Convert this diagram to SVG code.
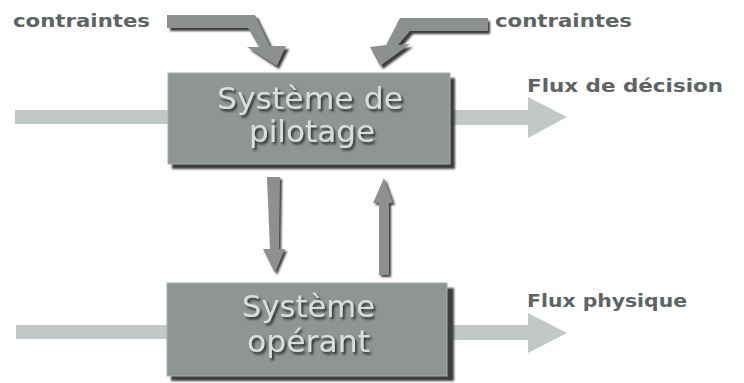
<svg xmlns="http://www.w3.org/2000/svg" width="744" height="383" viewBox="0 0 744 383">
<defs>
<filter id="ts" x="-10%" y="-20%" width="130%" height="150%">
<feDropShadow dx="2" dy="2.5" stdDeviation="1" flood-color="#2a2a2a" flood-opacity="0.9"/>
</filter>
<filter id="bs" x="-5%" y="-5%" width="115%" height="120%">
<feGaussianBlur stdDeviation="1.2"/>
</filter>
</defs>
<style>
.box{fill:#8f9494;stroke:#a9aeae;stroke-width:1}
.shadow{fill:#3c3c3c}
.btxt{font-family:"DejaVu Sans",sans-serif;font-size:31px;fill:#dadddd;filter:url(#ts)}
.lbl{font-family:"DejaVu Sans",sans-serif;font-weight:bold;font-size:17px;fill:#5c6464}
.flow{fill:#c2c8c8}
.carr{fill:#8c9090}
.cshd{fill:#3a3a3a}
</style>
<rect width="744" height="383" fill="#ffffff"/>

<g id="connectors">
  <!-- flow arrows -->
  <rect class="flow" x="15" y="110" width="155" height="14"/>
  <polygon class="flow" points="450,110 528,110 528,97 567,117 528,138 528,125 450,125"/>
  <rect class="flow" x="16" y="325" width="153" height="14"/>
  <polygon class="flow" points="447,325 528,325 528,313 567,333 528,353 528,340 447,340"/>
  <!-- constraint arrow left -->
  <polygon class="cshd" points="170,18 258,18 273,49 289,49 279,69 250,50 262,50 251,31 170,31" filter="url(#bs)"/>
  <polygon class="carr" points="167,15 255,15 270,46 286,46 277,66 247,47 259,47 248,28 167,28"/>
  <!-- constraint arrow right -->
  <polygon class="cshd" points="490,21 403,21 389,48 373,50 383,69 413,47 401,48 413,34 490,34" filter="url(#bs)"/>
  <polygon class="carr" points="488,18 400,18 386,45 370,47 380,66 410,44 398,45 410,31 488,31"/>
  <!-- down arrow -->
  <polygon class="cshd" points="269,179 282,179 281,251 287,251 277,275 265,251 272,251" filter="url(#bs)"/>
  <polygon class="carr" points="267,177 280,177 279,249 285,249 275,273 263,249 270,249"/>
  <!-- up arrow -->
  <polygon class="cshd" points="386,180 395,205 391,205 391,277 381,277 381,205 375,205" filter="url(#bs)"/>
  <polygon class="carr" points="384,178 393,203 389,203 389,275 379,275 379,203 373,203"/>
</g>

<g id="node-pilotage">
  <rect class="shadow" x="172" y="78" width="283" height="91" filter="url(#bs)"/>
  <rect class="box" x="168" y="73" width="282" height="91"/>
  <text class="btxt" x="217" y="109" textLength="186" lengthAdjust="spacingAndGlyphs">Système de</text>
  <text class="btxt" x="249" y="142" textLength="126" lengthAdjust="spacingAndGlyphs">pilotage</text>
</g>

<g id="node-operant">
  <rect class="shadow" x="171" y="288" width="283" height="93" filter="url(#bs)"/>
  <rect class="box" x="167" y="283" width="280" height="93"/>
  <text class="btxt" x="242" y="317" textLength="133" lengthAdjust="spacingAndGlyphs">Système</text>
  <text class="btxt" x="247" y="352" textLength="123" lengthAdjust="spacingAndGlyphs">opérant</text>
</g>

<g id="labels">
  <text class="lbl" x="13" y="27" textLength="137" lengthAdjust="spacingAndGlyphs">contraintes</text>
  <text class="lbl" x="495" y="27" textLength="137" lengthAdjust="spacingAndGlyphs">contraintes</text>
  <text class="lbl" x="527" y="92" textLength="196" lengthAdjust="spacingAndGlyphs">Flux de décision</text>
  <text class="lbl" x="527" y="307" textLength="160" lengthAdjust="spacingAndGlyphs">Flux physique</text>
</g>
</svg>
